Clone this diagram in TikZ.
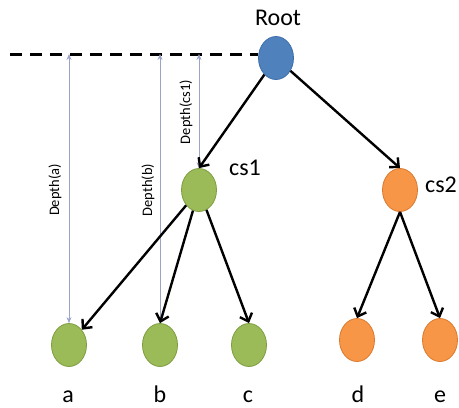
\documentclass[tikz,border=0pt]{standalone}
\usepackage{fontspec}
\setmainfont{Carlito}
\usepackage{xcolor}
\usetikzlibrary{arrows.meta, positioning, shapes.geometric}

\definecolor{rootblue}{HTML}{4F81BD}
\definecolor{rootline}{HTML}{3D6DAD}
\definecolor{csgreen}{HTML}{9BBB59}
\definecolor{csgreenline}{HTML}{7E9E40}
\definecolor{csorange}{HTML}{F79646}
\definecolor{csorangeline}{HTML}{DA7A30}
\definecolor{depthline}{HTML}{9AA3C8}

\begin{document}
\begin{tikzpicture}[
        x=1pt, y=-1pt,
        vertex/.style={ellipse, draw, line width=0.8pt, minimum width=35pt, minimum height=43pt, inner sep=0pt},
        blue/.style={vertex, fill=rootblue, draw=rootline},
        green/.style={vertex, fill=csgreen, draw=csgreenline},
        orange/.style={vertex, fill=csorange, draw=csorangeline},
        lbl/.style={font=\fontsize{24}{26}\selectfont, inner sep=0pt},
        depthlbl/.style={font=\fontsize{14.5}{16}\selectfont, rotate=90, inner sep=0pt},
        arrow/.style={-{Straight Barb[length=7pt, width=13pt, line width=2.4pt]}, line width=2.4pt},
        deptharrow/.style={{Stealth[length=6pt, width=5pt]}-{Stealth[length=6pt, width=5pt]}, draw=depthline, line width=0.7pt}
    ]
        \useasboundingbox (0,0) rectangle (459,408);

        % tree
        \node[blue] (root) at (276,58) {};
        \node[green] (cs1) at (199,190) {};
        \node[orange] (cs2) at (400,190) {};
        \node[green] (a) at (69,345) {};
        \node[green] (b) at (160,345) {};
        \node[green] (c) at (249,345) {};
        \node[orange] (d) at (357,340) {};
        \node[orange] (e) at (440,340) {};

        % labels
        \node[lbl] (rootlbl) at (278,18) {Root};
        \node[lbl] (cs1lbl) at (245,168) {cs1};
        \node[lbl] (cs2lbl) at (441,185) {cs2};
        \node[lbl, anchor=base] (albl) at (68,402) {a};
        \node[lbl, anchor=base] (blbl) at (160,402) {b};
        \node[lbl, anchor=base] (clbl) at (248,402) {c};
        \node[lbl, anchor=base] (dlbl) at (358,402) {d};
        \node[lbl, anchor=base] (elbl) at (440,402) {e};

        % depth of root
        \coordinate (lvl) at (10,54);
        \draw[line width=3pt, dash pattern=on 12pt off 8pt] (lvl) -- (root.west |- lvl);

        \draw[deptharrow] (a.north |- lvl) -- (a.north);
        \draw[deptharrow] (b.north |- lvl) -- (b.north);
        \draw[deptharrow] (cs1.north |- lvl) -- (cs1.north);
        \node[depthlbl] (da) at (55,190) {Depth(a)};
        \node[depthlbl] (db) at (148,190) {Depth(b)};
        \node[depthlbl] (dcs1) at (186,112) {Depth(cs1)};

        \draw[arrow] (root) -- (cs1.north);
        \draw[arrow] (root) -- (cs2.north);
        \draw[arrow] (cs1) -- (a);
        \draw[arrow] (cs1) -- (b.north);
        \draw[arrow] (cs1) -- (c.north);
        \draw[arrow] (cs2.south) -- (d.north);
        \draw[arrow] (cs2.south) -- (e.north);
    \end{tikzpicture}
\end{document}
